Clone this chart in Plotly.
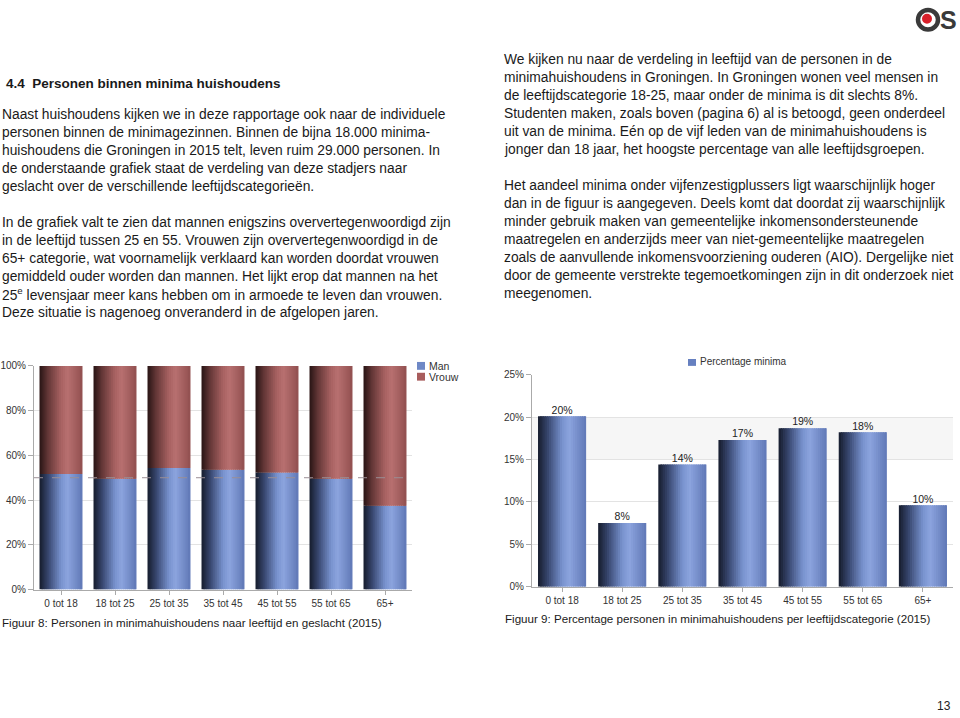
import plotly.graph_objects as go

W, H = 960, 718

categorieen = ['0 tot 18', '18 tot 25', '25 tot 35', '35 tot 45', '45 tot 55', '55 tot 65', '65+']
man = [51.7, 49.5, 54.4, 53.6, 52.3, 49.5, 37.5]
vrouw = [100 - m for m in man]
perc_minima = [20.1, 7.5, 14.4, 17.3, 18.7, 18.2, 9.6]
perc_labels = ['20%', '8%', '14%', '17%', '19%', '18%', '10%']

kop = '4.4  Personen binnen minima huishoudens'
tekst_links = [
    'Naast huishoudens kijken we in deze rapportage ook naar de individuele',
    'personen binnen de minimagezinnen. Binnen de bijna 18.000 minima-',
    'huishoudens die Groningen in 2015 telt, leven ruim 29.000 personen. In',
    'de onderstaande grafiek staat de verdeling van deze stadjers naar',
    'geslacht over de verschillende leeftijdscategorieën.',
    '',
    'In de grafiek valt te zien dat mannen enigszins oververtegenwoordigd zijn',
    'in de leeftijd tussen 25 en 55. Vrouwen zijn oververtegenwoordigd in de',
    '65+ categorie, wat voornamelijk verklaard kan worden doordat vrouwen',
    'gemiddeld ouder worden dan mannen. Het lijkt erop dat mannen na het',
    '25<sup>e</sup> levensjaar meer kans hebben om in armoede te leven dan vrouwen.',
    'Deze situatie is nagenoeg onveranderd in de afgelopen jaren.',
]
tekst_rechts = [
    'We kijken nu naar de verdeling in leeftijd van de personen in de',
    'minimahuishoudens in Groningen. In Groningen wonen veel mensen in',
    'de leeftijdscategorie 18-25, maar onder de minima is dit slechts 8%.',
    'Studenten maken, zoals boven (pagina 6) al is betoogd, geen onderdeel',
    'uit van de minima. Eén op de vijf leden van de minimahuishoudens is',
    'jonger dan 18 jaar, het hoogste percentage van alle leeftijdsgroepen.',
    '',
    'Het aandeel minima onder vijfenzestigplussers ligt waarschijnlijk hoger',
    'dan in de figuur is aangegeven. Deels komt dat doordat zij waarschijnlijk',
    'minder gebruik maken van gemeentelijke inkomensondersteunende',
    'maatregelen en anderzijds meer van niet-gemeentelijke maatregelen',
    'zoals de aanvullende inkomensvoorziening ouderen (AIO). Dergelijke niet',
    'door de gemeente verstrekte tegemoetkomingen zijn in dit onderzoek niet',
    'meegenomen.',
]
bijschrift8 = 'Figuur 8: Personen in minimahuishoudens naar leeftijd en geslacht (2015)'
bijschrift9 = 'Figuur 9: Percentage personen in minimahuishoudens per leeftijdscategorie (2015)'

FONT = 'Liberation Sans, Arial, sans-serif'

# gradient stops (horizontal, left -> right)
blauw = [(0.0, (22, 28, 44)), (0.2, (55, 70, 110)), (0.5, (120, 146, 206)),
         (0.65, (140, 164, 222)), (1.0, (96, 120, 182))]
rood = [(0.0, (40, 20, 20)), (0.2, (100, 55, 55)), (0.5, (168, 98, 98)),
        (0.65, (184, 112, 112)), (1.0, (146, 80, 80))]


def kleur(stops, t):
    for (t0, c0), (t1, c1) in zip(stops, stops[1:]):
        if t <= t1:
            f = (t - t0) / (t1 - t0)
            return 'rgb(%d,%d,%d)' % tuple(round(a + (b - a) * f) for a, b in zip(c0, c1))
    return 'rgb(%d,%d,%d)' % stops[-1][1]


def verloop_bars(fig, y, base, stops, bw, xa, ya, n=22):
    stap = bw / n
    for i in range(n):
        off = -bw / 2 + i * stap
        fig.add_trace(go.Bar(
            x=categorieen, y=y, base=base, offset=off,
            width=min(stap * 1.7, bw - i * stap),
            marker=dict(color=kleur(stops, (i + 0.5) / n), line=dict(width=0)),
            xaxis=xa, yaxis=ya, showlegend=False, hoverinfo='skip'))


fig = go.Figure()
verloop_bars(fig, man, [0] * 7, blauw, 0.796, 'x', 'y')
verloop_bars(fig, vrouw, man, rood, 0.796, 'x', 'y')
verloop_bars(fig, perc_minima, [0] * 7, blauw, 0.8, 'x2', 'y2')
fig.add_trace(go.Scatter(x=categorieen, y=perc_minima, text=perc_labels, mode='text',
                         textposition='top center', textfont=dict(size=10.5, color='#222'),
                         xaxis='x2', yaxis='y2', showlegend=False, hoverinfo='skip'))


def px(x):
    return x / W


def py(y):
    return 1 - y / H


as_stijl = dict(showline=True, linecolor='#aaaaaa', ticks='outside', tickcolor='#aaaaaa',
                tickfont=dict(size=10, color='#333', family=FONT))

fig.update_layout(
    width=W, height=H, margin=dict(l=0, r=0, t=0, b=0),
    paper_bgcolor='white', plot_bgcolor='rgba(0,0,0,0)',
    barmode='overlay', showlegend=False, font=dict(family=FONT, color='#222'),
    xaxis=dict(domain=[px(34), px(412)], anchor='y', ticklen=4, **as_stijl),
    yaxis=dict(domain=[py(593.5), py(366)], anchor='x', range=[0, 100], dtick=20,
               ticksuffix='%', ticklen=5, gridcolor='#e3e3e3', zeroline=False, **as_stijl),
    xaxis2=dict(domain=[px(532), px(953)], anchor='y2', ticklen=4, **as_stijl),
    yaxis2=dict(domain=[py(590.5), py(375)], anchor='x2', range=[0, 25], dtick=5,
                ticksuffix='%', ticklen=5, gridcolor='#e3e3e3', zeroline=False, **as_stijl),
)

# 50% reference line and alternating band
fig.add_shape(type='line', xref='x domain', yref='y', x0=0, x1=1, y0=50, y1=50,
              line=dict(color='#9a8f95', width=1, dash='dash'), layer='above')
fig.add_shape(type='rect', xref='x2 domain', yref='y2', x0=0, x1=1, y0=15, y1=20,
              fillcolor='#f6f6f6', line=dict(width=0), layer='below')

ann = []


def tekst(x, y, s, size=13, bold=False, anchor='left', color='#1a1a1a'):
    ann.append(dict(x=px(x), y=py(y), xref='paper', yref='paper', text=('<b>%s</b>' % s) if bold else s,
                    showarrow=False, xanchor=anchor, yanchor='middle',
                    font=dict(size=size, color=color, family=FONT)))


tekst(4, 79, kop, size=13.5, bold=True)
for i, regel in enumerate(tekst_links):
    if regel:
        tekst(0, 110 + 18.3 * i, regel, size=13.8)
for i, regel in enumerate(tekst_rechts):
    if regel:
        tekst(502, 54 + 18.3 * i, regel, size=13.8)

tekst(0, 627, bijschrift8, size=11.6)
tekst(503, 623, bijschrift9, size=11.6)

# legends
fig.add_shape(type='rect', xref='paper', yref='paper', x0=px(417), x1=px(425), y0=py(362), y1=py(370),
              fillcolor='#6e88c6', line=dict(width=0))
fig.add_shape(type='rect', xref='paper', yref='paper', x0=px(417), x1=px(425), y0=py(373), y1=py(381),
              fillcolor='#a85c5c', line=dict(width=0))
tekst(427, 366, 'Man', size=10.5, color='#333')
tekst(427, 377, 'Vrouw', size=10.5, color='#333')
fig.add_shape(type='rect', xref='paper', yref='paper', x0=px(688), x1=px(696), y0=py(359), y1=py(366),
              fillcolor='#6680c0', line=dict(width=0))
tekst(698, 362, 'Percentage minima', size=10, color='#333')

# logo and page number
fig.add_shape(type='circle', xref='paper', yref='paper', x0=px(918), x1=px(938), y0=py(4), y1=py(24),
              line=dict(color='#3a3a3a', width=4.5), fillcolor='white')
fig.add_shape(type='circle', xref='paper', yref='paper', x0=px(922), x1=px(932), y0=py(8), y1=py(18),
              line=dict(width=0), fillcolor='#d8202a')
tekst(938, 14, 'S', size=25, bold=True, color='#3a3a3a')
tekst(953, 712, '13', size=12, anchor='right', color='#222')

fig.update_layout(annotations=ann)
fig.write_html('out.html', config={'displayModeBar': False},
               post_script="document.body.style.margin='0';document.body.style.overflow='hidden';")
